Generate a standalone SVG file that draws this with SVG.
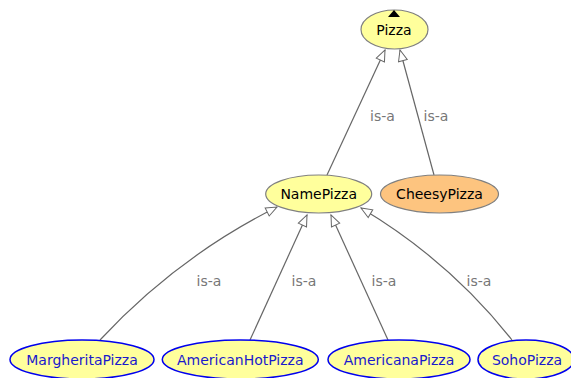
<svg xmlns="http://www.w3.org/2000/svg" width="571" height="378" viewBox="0 0 571 378">
<defs>
<marker id="hollow" markerUnits="userSpaceOnUse" markerWidth="13" markerHeight="11" refX="12" refY="5" orient="auto" overflow="visible">
<path d="M1,0.5 L12,5 L1,9.5 Z" fill="#ffffff" stroke="#666666" stroke-width="1"/>
</marker>
<style>
.edge{fill:none;stroke:#666666;stroke-width:1.2;marker-end:url(#hollow)}
.lbl{font-family:"DejaVu Sans",sans-serif;font-size:14px;fill:#777777;text-anchor:middle}
.nt{font-family:"DejaVu Sans",sans-serif;font-size:14px;text-anchor:middle}
.gray{fill:#ffff9c;stroke:#808080;stroke-width:1.2}
.blue{fill:#ffff9c;stroke:#0000ee;stroke-width:1.5}
.bt{fill:#1a1acc}
</style>
</defs>
<rect width="571" height="378" fill="#ffffff"/>
<g id="connectors">
<path class="edge" d="M327,175 L385,50"/>
<path class="edge" d="M434,175 L400,50"/>
<path class="edge" d="M100,340 Q176.5,257.5 277,207"/>
<path class="edge" d="M250,340 L307,215"/>
<path class="edge" d="M388,340 L331,215"/>
<path class="edge" d="M512,340 Q449.5,260.7 361,208"/>
<text class="lbl" x="382.5" y="121">is-a</text>
<text class="lbl" x="436" y="121">is-a</text>
<text class="lbl" x="209" y="286">is-a</text>
<text class="lbl" x="304" y="286">is-a</text>
<text class="lbl" x="384" y="286">is-a</text>
<text class="lbl" x="479" y="286">is-a</text>
</g>
<g id="Pizza">
<ellipse class="gray" cx="394.5" cy="29.5" rx="33.5" ry="19.5"/>
<polygon points="388,17 400,17 394,10" fill="#000000"/>
<text class="nt" x="394" y="35" fill="#000000">Pizza</text>
</g>
<g id="NamePizza">
<ellipse class="gray" cx="318.7" cy="194" rx="53" ry="19"/>
<text class="nt" x="318.7" y="199" fill="#000000">NamePizza</text>
</g>
<g id="CheesyPizza">
<ellipse cx="439.5" cy="194" rx="59" ry="19" fill="#fdc47f" stroke="#808080" stroke-width="1.2"/>
<text class="nt" x="439.5" y="199" fill="#000000">CheesyPizza</text>
</g>
<g id="MargheritaPizza">
<ellipse class="blue" cx="82" cy="359.5" rx="72" ry="19.5"/>
<text class="nt bt" x="82" y="365">MargheritaPizza</text>
</g>
<g id="AmericanHotPizza">
<ellipse class="blue" cx="240.3" cy="359.5" rx="78" ry="19.5"/>
<text class="nt bt" x="240.3" y="365">AmericanHotPizza</text>
</g>
<g id="AmericanaPizza">
<ellipse class="blue" cx="399" cy="359.5" rx="71" ry="19.5"/>
<text class="nt bt" x="399" y="365">AmericanaPizza</text>
</g>
<g id="SohoPizza">
<ellipse class="blue" cx="526" cy="359.5" rx="48" ry="19.5"/>
<text class="nt bt" x="527" y="365">SohoPizza</text>
</g>
</svg>
